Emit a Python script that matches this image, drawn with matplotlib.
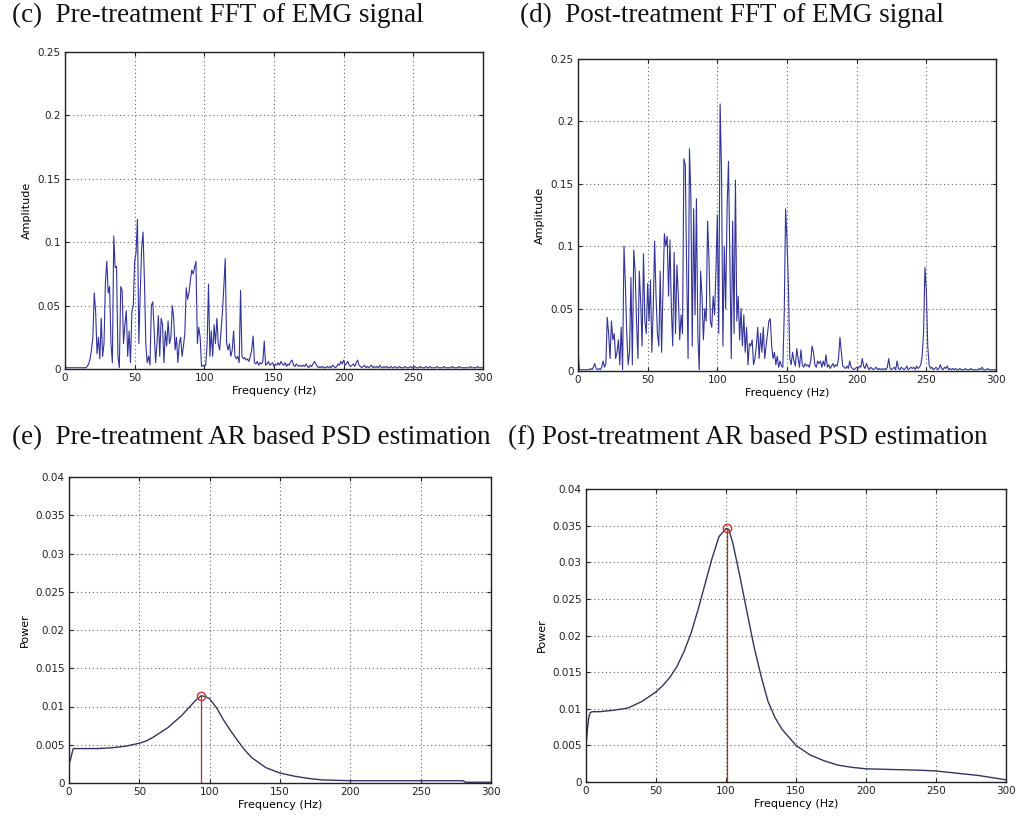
import numpy as np
import matplotlib
matplotlib.use("Agg")
import matplotlib.pyplot as plt
from matplotlib.ticker import FuncFormatter

# ---- data (1 Hz bins for the FFT panels) ----
fft_freq = np.arange(0, 301)

fft_pre = [
    0.003, 0.001, 0.001, 0.001, 0.001, 0.001, 0.001, 0.001, 0.001, 0.001,
    0.001, 0.001, 0.001, 0.001, 0.001, 0.001, 0.002, 0.004, 0.008, 0.015,
    0.025, 0.060, 0.045, 0.012, 0.025, 0.008, 0.040, 0.010, 0.020, 0.068,
    0.085, 0.060, 0.065, 0.020, 0.005, 0.105, 0.080, 0.081, 0.010, 0.001,
    0.065, 0.062, 0.020, 0.035, 0.046, 0.010, 0.030, 0.005, 0.045, 0.050,
    0.085, 0.092, 0.118, 0.020, 0.060, 0.095, 0.108, 0.070, 0.020, 0.005,
    0.010, 0.003, 0.050, 0.053, 0.030, 0.005, 0.020, 0.042, 0.010, 0.040,
    0.035, 0.005, 0.030, 0.018, 0.038, 0.020, 0.025, 0.050, 0.040, 0.015,
    0.025, 0.005, 0.020, 0.025, 0.010, 0.018, 0.028, 0.064, 0.055, 0.060,
    0.070, 0.078, 0.075, 0.080, 0.085, 0.020, 0.033, 0.025, 0.002, 0.003,
    0.002, 0.003, 0.020, 0.067, 0.010, 0.030, 0.010, 0.035, 0.020, 0.040,
    0.020, 0.015, 0.030, 0.045, 0.065, 0.087, 0.020, 0.015, 0.020, 0.010,
    0.015, 0.030, 0.010, 0.008, 0.010, 0.005, 0.062, 0.010, 0.008, 0.009,
    0.007, 0.008, 0.006, 0.010, 0.015, 0.026, 0.005, 0.004, 0.006, 0.003,
    0.005, 0.004, 0.006, 0.022, 0.003, 0.004, 0.006, 0.003, 0.004, 0.005,
    0.002, 0.004, 0.003, 0.005, 0.003, 0.006, 0.004, 0.003, 0.005, 0.002,
    0.004, 0.003, 0.006, 0.007, 0.003, 0.002, 0.004, 0.003, 0.002, 0.003,
    0.002, 0.003, 0.002, 0.004, 0.002, 0.001, 0.003, 0.002, 0.004, 0.006,
    0.004, 0.002, 0.001, 0.002, 0.001, 0.002, 0.001, 0.001, 0.002, 0.001,
    0.002, 0.001, 0.003, 0.002, 0.001, 0.002, 0.004, 0.003, 0.006, 0.004,
    0.007, 0.003, 0.004, 0.006, 0.003, 0.002, 0.003, 0.004, 0.002, 0.005,
    0.007, 0.003, 0.002, 0.001, 0.002, 0.003, 0.001, 0.002, 0.001, 0.002,
    0.003, 0.001, 0.002, 0.001, 0.002, 0.001, 0.003, 0.001, 0.001, 0.002,
    0.001, 0.002, 0.001, 0.001, 0.002, 0.001, 0.001, 0.002, 0.001, 0.001,
    0.002, 0.001, 0.001, 0.001, 0.002, 0.001, 0.001, 0.001, 0.002, 0.001,
    0.001, 0.002, 0.001, 0.001, 0.001, 0.002, 0.001, 0.001, 0.001, 0.002,
    0.001, 0.001, 0.002, 0.001, 0.001, 0.001, 0.001, 0.002, 0.001, 0.001,
    0.001, 0.001, 0.002, 0.001, 0.001, 0.001, 0.001, 0.001, 0.002, 0.001,
    0.001, 0.001, 0.001, 0.002, 0.001, 0.001, 0.001, 0.001, 0.001, 0.001,
    0.001, 0.002, 0.001, 0.001, 0.001, 0.001, 0.002, 0.001, 0.001, 0.001,
    0.001,
]

fft_post = [
    0.017, 0.001, 0.001, 0.001, 0.001, 0.001, 0.001, 0.001, 0.001, 0.002,
    0.001, 0.003, 0.006, 0.002, 0.001, 0.002, 0.001, 0.003, 0.008, 0.003,
    0.006, 0.043, 0.030, 0.010, 0.040, 0.025, 0.030, 0.010, 0.015, 0.025,
    0.005, 0.035, 0.001, 0.100, 0.070, 0.030, 0.005, 0.015, 0.075, 0.005,
    0.097, 0.080, 0.040, 0.010, 0.080, 0.055, 0.020, 0.094, 0.040, 0.030,
    0.070, 0.040, 0.073, 0.015, 0.050, 0.104, 0.060, 0.030, 0.020, 0.080,
    0.015, 0.065, 0.110, 0.100, 0.108, 0.060, 0.105, 0.050, 0.020, 0.095,
    0.030, 0.085, 0.060, 0.025, 0.045, 0.030, 0.170, 0.165, 0.080, 0.010,
    0.178, 0.140, 0.020, 0.130, 0.045, 0.138, 0.030, 0.001, 0.080, 0.060,
    0.025, 0.050, 0.040, 0.120, 0.090, 0.040, 0.035, 0.060, 0.045, 0.080,
    0.125, 0.030, 0.214, 0.160, 0.020, 0.100, 0.050, 0.130, 0.168, 0.090,
    0.010, 0.120, 0.030, 0.153, 0.040, 0.060, 0.025, 0.050, 0.020, 0.045,
    0.015, 0.035, 0.005, 0.022, 0.020, 0.025, 0.005, 0.010, 0.020, 0.035,
    0.010, 0.030, 0.015, 0.035, 0.010, 0.020, 0.030, 0.040, 0.042, 0.020,
    0.010, 0.015, 0.005, 0.012, 0.003, 0.008, 0.004, 0.003, 0.045, 0.130,
    0.105, 0.068, 0.010, 0.005, 0.015, 0.008, 0.004, 0.018, 0.010, 0.003,
    0.017, 0.005, 0.003, 0.006, 0.004, 0.005, 0.003, 0.008, 0.020, 0.015,
    0.005, 0.003, 0.008, 0.006, 0.008, 0.003, 0.008, 0.004, 0.013, 0.003,
    0.005, 0.002, 0.004, 0.006, 0.003, 0.005, 0.004, 0.010, 0.027, 0.015,
    0.004, 0.003, 0.002, 0.004, 0.002, 0.008, 0.003, 0.002, 0.001, 0.002,
    0.003, 0.002, 0.004, 0.003, 0.010, 0.004, 0.002, 0.006, 0.003, 0.001,
    0.003, 0.002, 0.001, 0.002, 0.003, 0.001, 0.002, 0.001, 0.002, 0.001,
    0.002, 0.001, 0.003, 0.010, 0.002, 0.001, 0.002, 0.003, 0.001, 0.008,
    0.002, 0.001, 0.003, 0.002, 0.001, 0.002, 0.004, 0.001, 0.002, 0.003,
    0.002, 0.003, 0.001, 0.004, 0.002, 0.003, 0.005, 0.012, 0.030, 0.083,
    0.065, 0.020, 0.005, 0.002, 0.003, 0.001, 0.002, 0.003, 0.001, 0.002,
    0.005, 0.002, 0.001, 0.003, 0.002, 0.004, 0.001, 0.002, 0.001, 0.002,
    0.001, 0.002, 0.001, 0.001, 0.002, 0.001, 0.001, 0.001, 0.002, 0.001,
    0.001, 0.001, 0.002, 0.001, 0.001, 0.001, 0.001, 0.001, 0.002, 0.001,
    0.003, 0.001, 0.001, 0.001, 0.002, 0.001, 0.001, 0.001, 0.001, 0.001,
    0.001,
]

psd_pre_f = [0, 1, 2, 3, 5, 10, 20, 30, 40, 50, 55, 60, 65, 70, 75, 80, 85, 90, 94,
             97, 100, 105, 110, 115, 120, 125, 130, 140, 150, 160, 170, 180, 200,
             250, 280, 282, 300]
psd_pre_p = [0.0025, 0.003, 0.0038, 0.0045, 0.0045, 0.0045, 0.0045, 0.0046, 0.0048,
             0.0052, 0.0055, 0.006, 0.0066, 0.0072, 0.008, 0.0088, 0.0098, 0.0108,
             0.0114, 0.0113, 0.011, 0.0098, 0.0082, 0.0068, 0.0055, 0.0043, 0.0033,
             0.002, 0.0013, 0.0009, 0.0006, 0.0004, 0.0003, 0.0003, 0.0003, 0.0001,
             0.0001]
psd_pre_peak = (94, 0.0114)

psd_post_f = [0, 1, 2, 3, 5, 10, 20, 30, 40, 50, 55, 60, 65, 70, 75, 80, 85, 90, 95,
              100, 102, 105, 110, 115, 120, 125, 130, 135, 140, 150, 160, 170, 180,
              190, 200, 220, 240, 250, 260, 270, 280, 290, 300]
psd_post_p = [0.005, 0.0072, 0.0088, 0.0095, 0.0096, 0.0096, 0.0098, 0.0101, 0.011,
              0.0123, 0.0132, 0.0143, 0.0158, 0.0178, 0.0203, 0.0235, 0.027, 0.0305,
              0.0335, 0.0346, 0.0345, 0.0325, 0.028, 0.0232, 0.0185, 0.0145, 0.011,
              0.0088, 0.0072, 0.005, 0.0037, 0.0029, 0.0023, 0.002, 0.0018, 0.0017,
              0.0016, 0.0015, 0.0013, 0.0011, 0.0009, 0.0006, 0.0003]
psd_post_peak = (100.5, 0.0347)

titles = ["(c)  Pre-treatment FFT of EMG signal",
          "(d)  Post-treatment FFT of EMG signal",
          "(e)  Pre-treatment AR based PSD estimation",
          "(f) Post-treatment AR based PSD estimation"]

W, H = 1019, 824
fig = plt.figure(figsize=(W / 100, H / 100), dpi=100)


def box(l, t, r, b):
    return [l / W, 1 - b / H, (r - l) / W, (b - t) / H]


def fmt(v, pos):
    return "%g" % round(v, 4)


def style(ax, ylim, ystep, ylabel):
    ax.set_xlim(0, 300)
    ax.set_ylim(0, ylim)
    ax.set_xticks(np.arange(0, 301, 50))
    ax.set_yticks(np.arange(0, ylim + ystep / 2, ystep))
    ax.yaxis.set_major_formatter(FuncFormatter(fmt))
    ax.grid(True, linestyle=(0, (1, 2.5)), color="#666666", linewidth=0.8)
    ax.tick_params(direction="in", top=True, right=True, length=3,
                   labelsize=7.5, colors="#222222", pad=3)
    for s in ax.spines.values():
        s.set_linewidth(1.0)
        s.set_color("#222222")
    ax.set_xlabel("Frequency (Hz)", fontsize=8, labelpad=2)
    ax.set_ylabel(ylabel, fontsize=8, labelpad=4)


line_col = "#33339a"

ax_c = fig.add_axes(box(65, 52, 483, 369))
ax_c.plot(fft_freq, fft_pre, color=line_col, linewidth=0.8)
style(ax_c, 0.25, 0.05, "Amplitude")

ax_d = fig.add_axes(box(578, 59, 996, 371))
ax_d.plot(fft_freq, fft_post, color=line_col, linewidth=0.8)
style(ax_d, 0.25, 0.05, "Amplitude")

ax_e = fig.add_axes(box(69, 477, 491, 783))
ax_e.plot(psd_pre_f, psd_pre_p, color="#34345e", linewidth=1.0)
ax_e.plot([psd_pre_peak[0]] * 2, [0, psd_pre_peak[1]], color="#cc2222", linewidth=0.9)
ax_e.plot(*psd_pre_peak, "o", mfc="none", mec="#cc3333", ms=6)
style(ax_e, 0.04, 0.005, "Power")

ax_f = fig.add_axes(box(586, 489, 1006, 782))
ax_f.plot(psd_post_f, psd_post_p, color="#34345e", linewidth=1.0)
ax_f.plot([psd_post_peak[0]] * 2, [0, psd_post_peak[1]], color="#cc2222", linewidth=0.9)
ax_f.plot(*psd_post_peak, "o", mfc="none", mec="#cc3333", ms=6)
style(ax_f, 0.04, 0.005, "Power")

title_pos = [(12, 15), (520, 15), (12, 438), (508, 438)]
for (tx, ty), t in zip(title_pos, titles):
    fig.text(tx / W, 1 - ty / H, t, fontsize=19.5, family="Liberation Serif",
             ha="left", va="center", color="#111111")

fig.savefig("out.png", dpi=100)
